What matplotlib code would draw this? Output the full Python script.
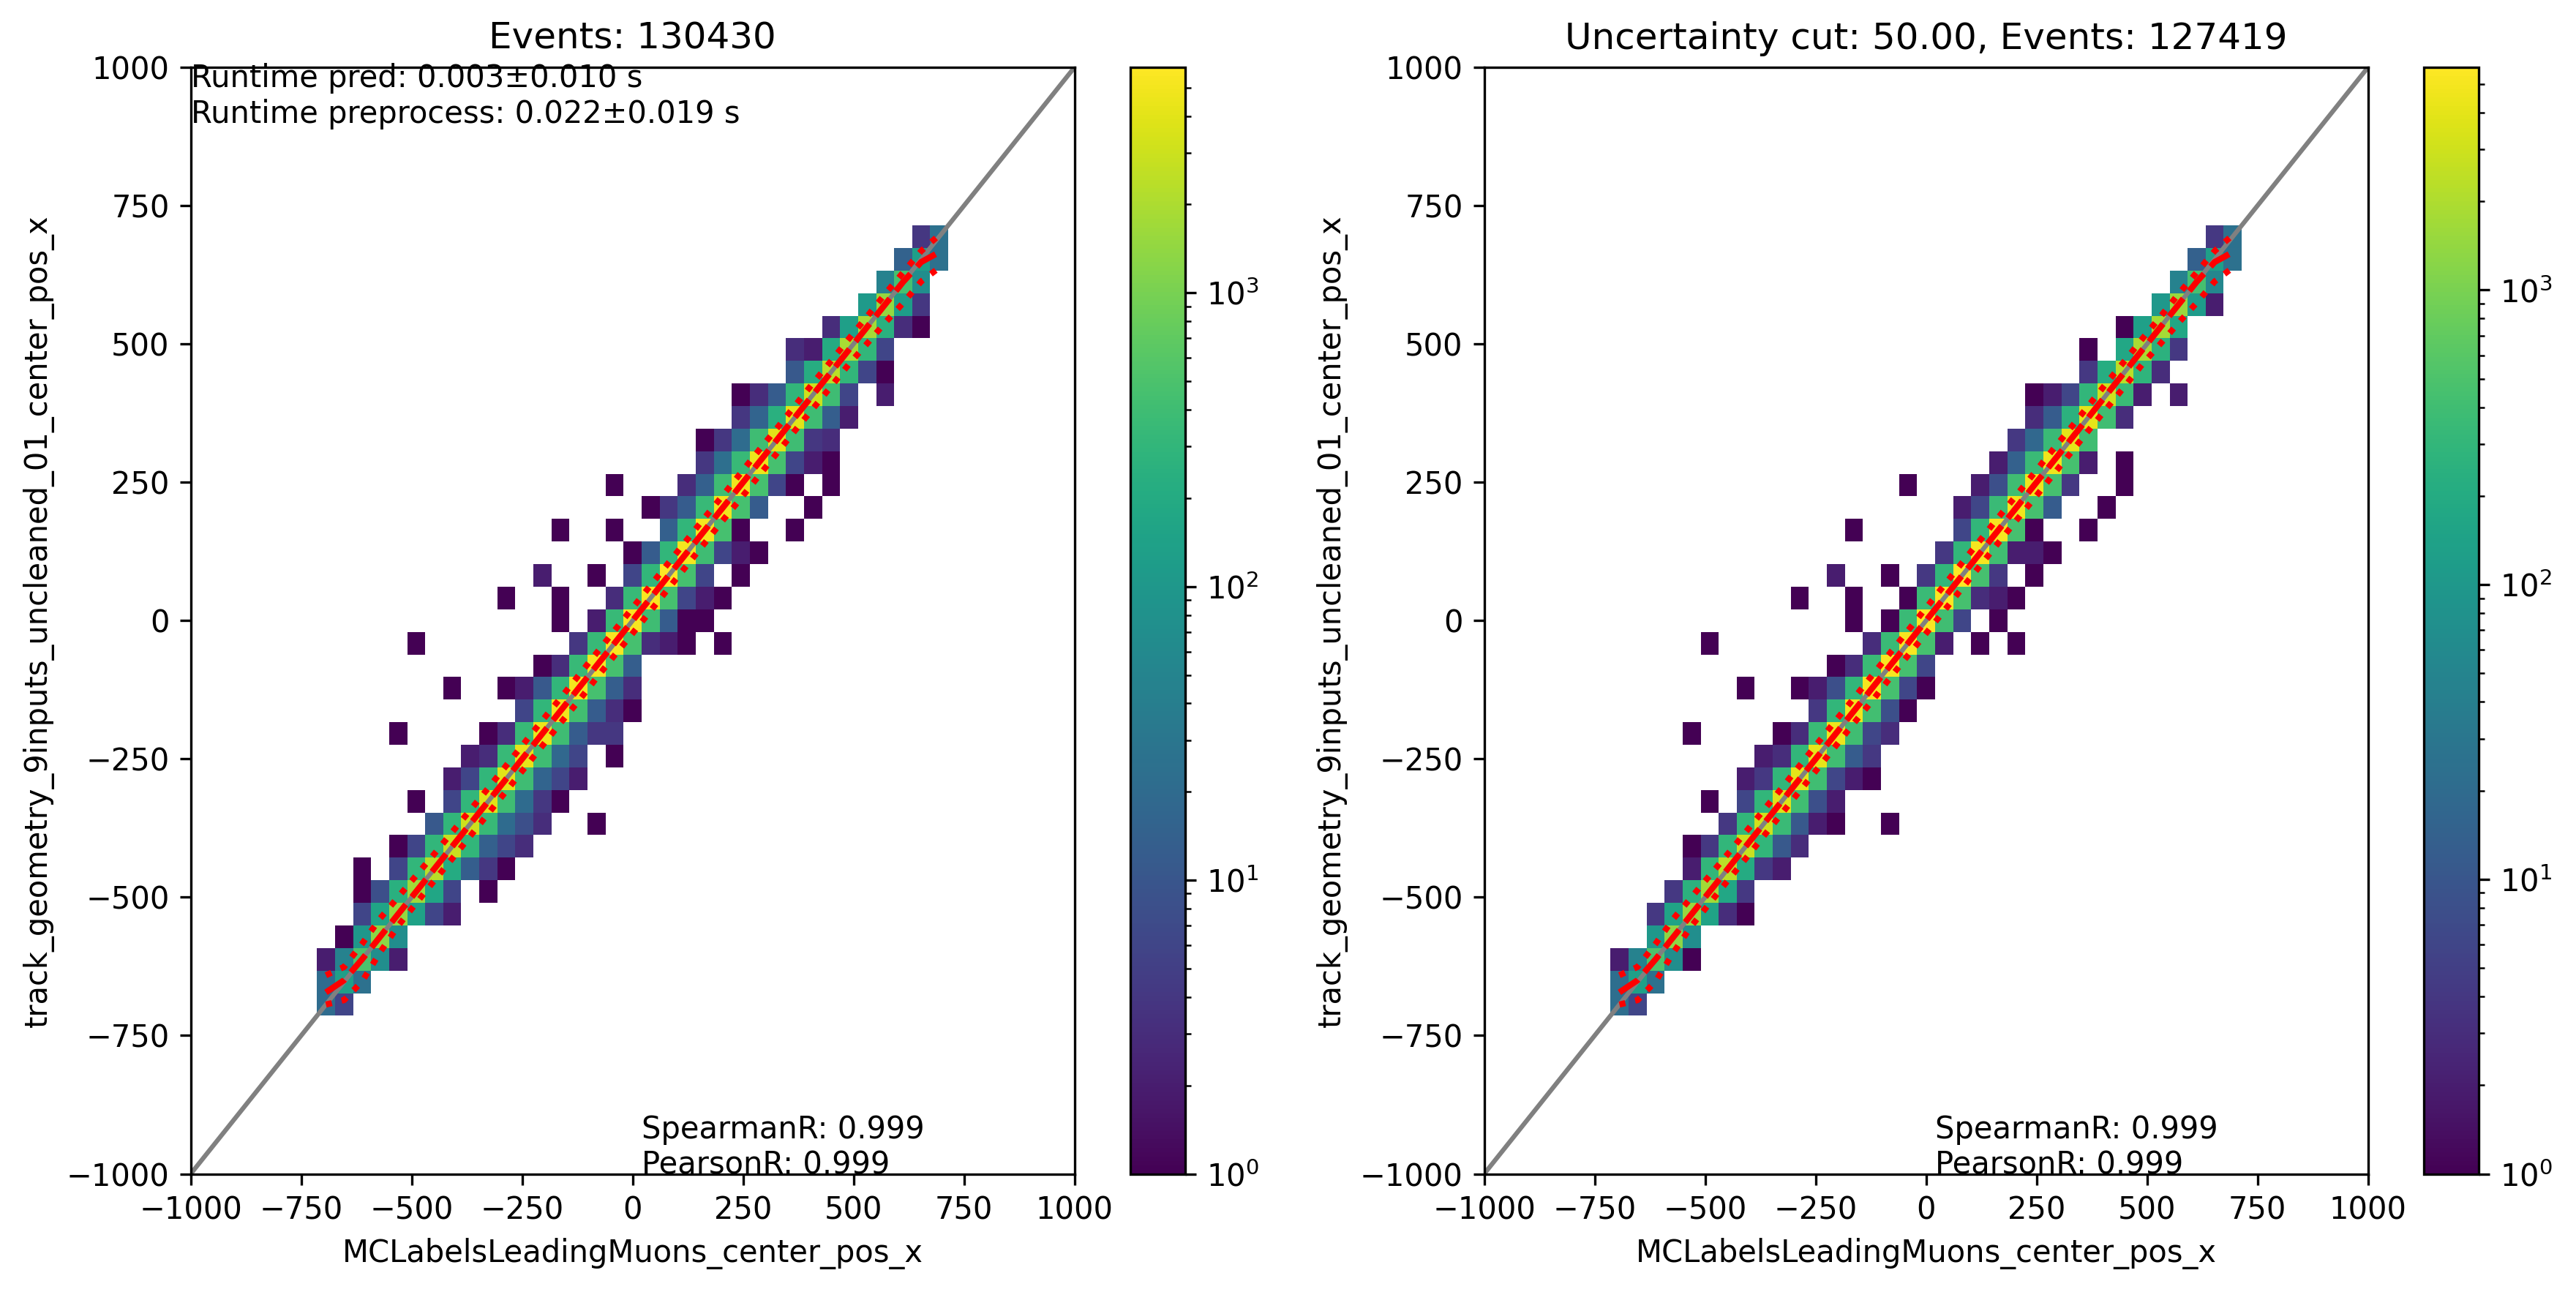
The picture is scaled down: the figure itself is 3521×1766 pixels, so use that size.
import numpy as np
import matplotlib
matplotlib.use("Agg")
import matplotlib.pyplot as plt
from matplotlib.colors import LogNorm

# --- Data ---
n_bins = 50
tick_values = [-1000, -750, -500, -250, 0, 250, 500, 750, 1000]
x_label = "MCLabelsLeadingMuons_center_pos_x"
y_label = "track_geometry_9inputs_uncleaned_01_center_pos_x"
left_title = "Events: 130430"
right_title = "Uncertainty cut: 50.00, Events: 127419"
runtime_text = "Runtime pred: 0.003±0.010 s\nRuntime preprocess: 0.022±0.019 s"
corr_text = "SpearmanR: 0.999\nPearsonR: 0.999"

# counts per row of the 2d histogram: row index -> (first column, counts)
left_rows = {
    7: (7, [21, 6]),
    8: (7, [21, 130, 25]),
    9: (7, [2, 45, 500, 70, 2]),
    10: (8, [1, 100, 1300, 70]),
    11: (9, [6, 160, 1500, 150, 6, 2]),
    12: (9, [1, 8, 250, 1700, 170, 6, 0, 1]),
    13: (9, [1, 0, 6, 300, 2300, 200, 13, 4, 1]),
    14: (11, [1, 6, 300, 2800, 300, 14, 6, 3]),
    15: (13, [11, 300, 3000, 350, 20, 8, 3, 0, 0, 1]),
    16: (12, [1, 0, 6, 300, 3800, 400, 20, 4, 1]),
    17: (14, [2, 6, 300, 4000, 400, 16, 6, 2]),
    18: (15, [2, 3, 350, 4200, 400, 18, 6, 0, 1]),
    19: (11, [1, 0, 0, 0, 0, 1, 3, 350, 4500, 400, 12, 4, 4]),
    20: (18, [6, 300, 4800, 420, 12, 3, 1]),
    21: (14, [1, 0, 0, 1, 2, 11, 300, 5000, 450, 13, 3]),
    22: (19, [1, 3, 350, 5200, 450, 13]),
    23: (12, [1, 0, 0, 0, 0, 0, 0, 0, 0, 4, 350, 5300, 450, 3, 2, 1, 0, 1]),
    24: (20, [1, 0, 2, 350, 5400, 400, 12, 1, 1]),
    25: (17, [1, 0, 0, 1, 0, 0, 3, 350, 5400, 450, 6, 2, 1]),
    26: (19, [2, 0, 0, 1, 0, 6, 300, 5860, 450, 6, 0, 1]),
    27: (24, [1, 12, 300, 5000, 400, 6, 2, 1]),
    28: (20, [1, 0, 0, 1, 0, 0, 14, 300, 5000, 450, 1, 0, 0, 1]),
    29: (25, [1, 4, 12, 350, 4800, 450, 12, 0, 0, 1]),
    30: (23, [1, 0, 0, 0, 3, 14, 400, 4800, 450, 6, 1, 0, 1]),
    31: (28, [4, 23, 350, 4500, 450, 6, 2, 1]),
    32: (28, [1, 4, 21, 400, 4000, 400, 4, 3]),
    33: (30, [4, 16, 250, 4000, 400, 13, 2]),
    34: (30, [1, 3, 12, 300, 3000, 400, 6, 0, 2]),
    35: (33, [11, 220, 2400, 300, 6, 1]),
    36: (33, [3, 2, 200, 1900, 300, 6]),
    37: (35, [3, 130, 1800, 250, 3, 1]),
    38: (37, [110, 1500, 120, 4]),
    39: (38, [45, 450, 70]),
    40: (39, [15, 130, 25]),
    41: (40, [4, 25]),
}

right_rows = {
    7: (7, [22, 6]),
    8: (7, [22, 130, 24]),
    9: (7, [2, 45, 500, 70, 1]),
    10: (9, [100, 1300, 70]),
    11: (9, [4, 150, 1500, 150, 3, 1]),
    12: (10, [4, 250, 1700, 170, 4]),
    13: (11, [2, 300, 2300, 200, 4, 2]),
    14: (11, [1, 4, 300, 2800, 300, 11, 3]),
    15: (13, [4, 300, 3000, 350, 11, 2, 1, 0, 0, 1]),
    16: (12, [1, 0, 6, 300, 3800, 400, 8, 2]),
    17: (14, [2, 4, 300, 4000, 400, 6, 2, 1]),
    18: (15, [2, 3, 300, 4200, 400, 12, 4]),
    19: (11, [1, 0, 0, 0, 0, 1, 3, 350, 4500, 400, 6, 3]),
    20: (18, [4, 300, 4800, 420, 8, 1]),
    21: (14, [1, 0, 0, 1, 2, 8, 300, 5000, 450, 6, 1]),
    22: (19, [1, 3, 350, 5200, 450, 6]),
    23: (12, [1, 0, 0, 0, 0, 0, 0, 0, 0, 3, 350, 5300, 450, 2, 0, 1, 0, 1]),
    24: (20, [1, 0, 1, 350, 5400, 400, 6, 0, 1]),
    25: (17, [1, 0, 0, 1, 0, 0, 1, 350, 5400, 450, 3, 2, 1]),
    26: (19, [2, 0, 0, 1, 0, 4, 300, 5700, 450, 4, 0, 1]),
    27: (25, [4, 300, 5000, 400, 2, 2, 1]),
    28: (20, [1, 0, 0, 0, 0, 0, 6, 300, 5000, 450, 1, 0, 0, 1]),
    29: (26, [2, 6, 350, 4800, 450, 12, 0, 0, 1]),
    30: (23, [1, 0, 0, 0, 2, 8, 400, 4800, 450, 4, 0, 0, 1]),
    31: (28, [2, 14, 350, 4500, 450, 2, 0, 1]),
    32: (29, [4, 18, 350, 4000, 400]),
    33: (30, [3, 12, 250, 4000, 400, 3]),
    34: (30, [1, 2, 6, 300, 3000, 350, 2, 0, 2]),
    35: (33, [4, 220, 2300, 280, 3]),
    36: (33, [1, 0, 170, 1900, 250, 4]),
    37: (35, [1, 130, 1800, 170]),
    38: (37, [100, 1500, 110, 2]),
    39: (38, [45, 450, 55]),
    40: (39, [14, 130, 24]),
    41: (40, [4, 25]),
}

# median and 16/84 percentile of y in each x bin
profile_x = [-694, -653, -612, -571, -531, -490, -449, -408, -367, -327, -286, -245,
             -204, -163, -122, -82, -41, 0, 41, 82, 122, 163, 204, 245, 286, 327, 367,
             408, 449, 490, 531, 571, 612, 653, 694]
profile_median = [-672, -650, -612, -571, -531, -490, -449, -408, -367, -327, -286, -245,
                  -204, -163, -122, -82, -41, 0, 41, 82, 122, 163, 204, 245, 286, 327, 367,
                  408, 449, 490, 531, 571, 612, 648, 666]
profile_p84 = [-641, -626, -584, -538, -500, -461, -422, -382, -342, -303, -262, -221,
               -180, -140, -99, -59, -18, 23, 64, 105, 145, 186, 226, 267, 308, 348, 388,
               429, 469, 510, 550, 590, 629, 668, 697]
profile_p16 = [-694, -686, -652, -599, -552, -511, -470, -430, -389, -349, -308, -267,
               -226, -185, -145, -104, -63, -23, 18, 59, 99, 140, 181, 221, 262, 303, 343,
               383, 423, 464, 501, 538, 574, 613, 638]

# --- Plot ---
W, H = 3521, 1766
DPI = 300


def box(x0, x1, y0, y1):
    # pixel box of the reference -> figure fractions
    return [x0 / W, 1 - y1 / H, (x1 - x0) / W, (y1 - y0) / H]


def draw_panel(fig, rows, title, left, show_runtime):
    ax = fig.add_axes(box(left, left + 1208, 92, 1604.5))
    cax = fig.add_axes(box(left + 1284, left + 1359, 92, 1604.5))

    bins = np.linspace(-1000, 1000, n_bins)
    centers = (bins[:-1] + bins[1:]) / 2
    xs, ys, counts = [], [], []
    for row, (first, values) in rows.items():
        for k, val in enumerate(values):
            xs.append(centers[first + k])
            ys.append(centers[row])
            counts.append(val)

    h = ax.hist2d(xs, ys, bins=[bins, bins], weights=counts, cmin=1, norm=LogNorm(), cmap="viridis")
    fig.colorbar(h[3], cax=cax)

    ax.plot([-1000, 1000], [-1000, 1000], color="gray", lw=1.5)
    ax.plot(profile_x, profile_median, color="red", ls="--", lw=2)
    ax.plot(profile_x, profile_p84, color="red", ls=":", lw=2)
    ax.plot(profile_x, profile_p16, color="red", ls=":", lw=2)

    ax.set_xlim(-1000, 1000)
    ax.set_ylim(-1000, 1000)
    ax.set_xticks(tick_values)
    ax.set_yticks(tick_values)
    ax.set_xlabel(x_label)
    ax.set_ylabel(y_label)
    ax.set_title(title)
    if show_runtime:
        ax.text(-1000, 900, runtime_text)
    ax.text(20, -1000, corr_text)


fig = plt.figure(figsize=(W / DPI, H / DPI), dpi=DPI)
draw_panel(fig, left_rows, left_title, 260.7, True)
draw_panel(fig, right_rows, right_title, 2028.7, False)
fig.savefig("out.png", dpi=DPI)
